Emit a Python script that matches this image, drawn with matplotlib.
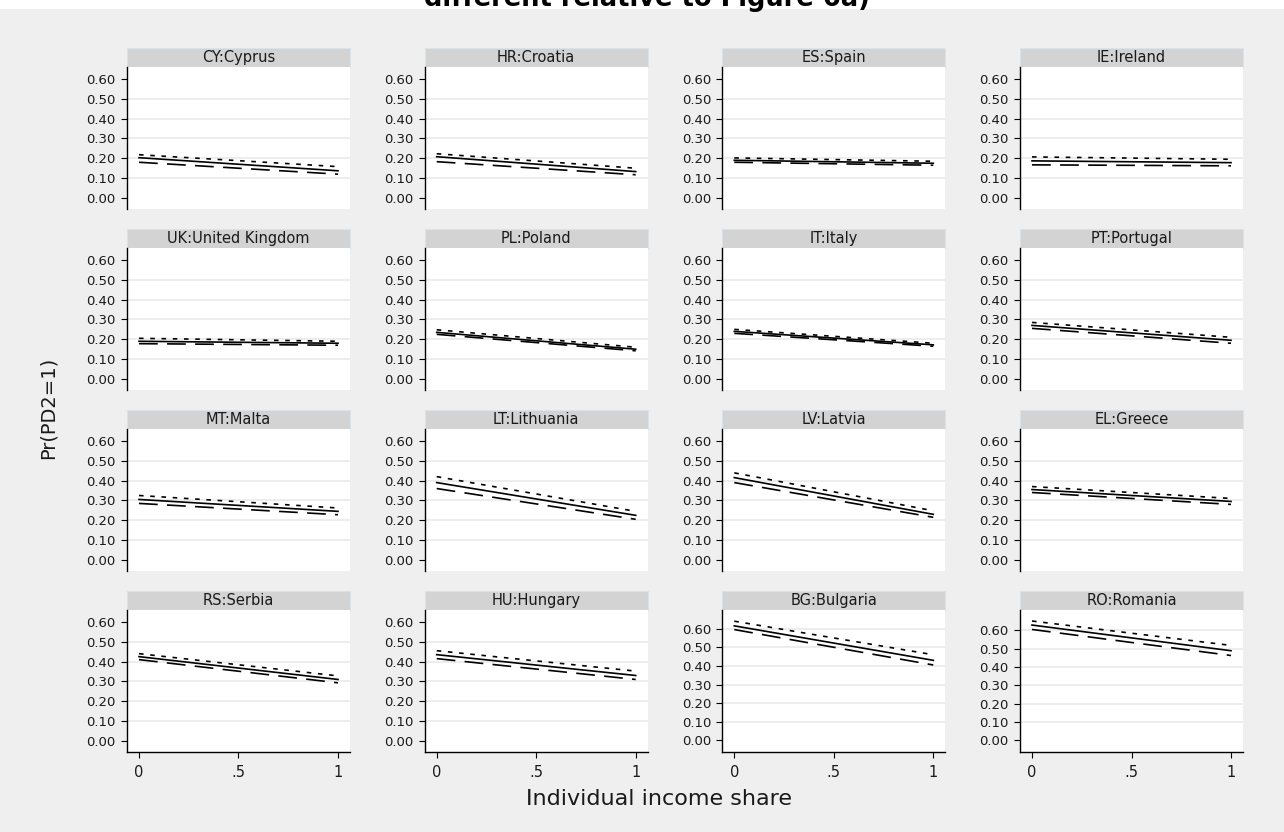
import matplotlib
matplotlib.use('Agg')
from matplotlib import pyplot as plt
from matplotlib.patches import Rectangle

# predicted Pr(PD2=1) at income share 0 and 1, one tuple per country
countries = ['CY:Cyprus', 'HR:Croatia', 'ES:Spain', 'IE:Ireland',
             'UK:United Kingdom', 'PL:Poland', 'IT:Italy', 'PT:Portugal',
             'MT:Malta', 'LT:Lithuania', 'LV:Latvia', 'EL:Greece',
             'RS:Serbia', 'HU:Hungary', 'BG:Bulgaria', 'RO:Romania']
share = [0, 1]
pr_mid = [(0.203, 0.137), (0.208, 0.133), (0.190, 0.175), (0.187, 0.178),
          (0.190, 0.180), (0.235, 0.150), (0.240, 0.172), (0.270, 0.195),
          (0.305, 0.245), (0.390, 0.225), (0.415, 0.230), (0.355, 0.295),
          (0.425, 0.310), (0.435, 0.330), (0.615, 0.430), (0.629, 0.489)]
pr_upper = [(0.218, 0.158), (0.223, 0.150), (0.202, 0.185), (0.207, 0.195),
            (0.205, 0.190), (0.248, 0.160), (0.250, 0.180), (0.285, 0.210),
            (0.325, 0.262), (0.420, 0.245), (0.439, 0.248), (0.370, 0.310),
            (0.440, 0.328), (0.455, 0.352), (0.640, 0.460), (0.651, 0.518)]
pr_lower = [(0.180, 0.120), (0.183, 0.117), (0.180, 0.165), (0.167, 0.162),
            (0.178, 0.170), (0.225, 0.142), (0.230, 0.165), (0.255, 0.180),
            (0.285, 0.228), (0.360, 0.205), (0.390, 0.215), (0.340, 0.280),
            (0.410, 0.293), (0.415, 0.310), (0.595, 0.405), (0.605, 0.463)]
yticks = [0.0, 0.1, 0.2, 0.3, 0.4, 0.5, 0.6]
xticks = [0, 0.5, 1]
xticklabels = ['0', '.5', '1']

W, H = 1284, 832
plt.rcParams['font.family'] = ['DejaVu Sans']
plt.rcParams['lines.scale_dashes'] = False
BG = '#efefef'

def box(left, top, w, h):                       # pixel box -> figure fraction
    return [left / W, 1 - (top + h) / H, w / W, h / H]

fig = plt.figure(figsize=(W / 100, H / 100), dpi=100, facecolor=BG)
fig.patches.append(Rectangle((0, 1 - 9 / H), 1, 9 / H, transform=fig.transFigure,
                             facecolor='white', edgecolor='none'))
fig.text(647 / W, 1 - 6 / H, 'different relative to Figure 6a)', ha='center',
         va='baseline', fontsize=18.5, weight='bold')

col_left = [127, 424.7, 722.3, 1020]
row_top = [48, 229, 410, 591]
pw, hh, ph = 223, 19, 142

for i, name in enumerate(countries):
    r, c = divmod(i, 4)
    left, top = col_left[c], row_top[r]

    # grey strip with the country name
    hax = fig.add_axes(box(left, top, pw, hh))
    hax.set_facecolor('#d3d3d3')
    hax.set_xticks([]); hax.set_yticks([])
    for s in hax.spines.values():
        s.set_color('#dbe3e8'); s.set_linewidth(0.8)
    hax.text(0.5, 0.5, name, ha='center', va='center', fontsize=10.5,
             color='#1a1a1a', transform=hax.transAxes)

    ax = fig.add_axes(box(left, top + hh, pw, ph))
    ax.set_facecolor('white')
    top_val = max(max(pr_upper[i]), 0.6)
    ax.set_ylim(-0.058 * top_val / 0.6 if top_val > 0.6 else -0.0555,
                top_val + 0.06)
    ax.set_xlim(-0.0603, 1.0603)
    for t in yticks:
        if 0 < t < top_val + 0.06 - 0.08:
            ax.axhline(t, color='#e8e8e8', lw=1.1, zorder=0)

    ax.plot(share, pr_upper[i], color='black', lw=1.2, ls=(0, (3.3, 4.8)))
    ax.plot(share, pr_mid[i], color='black', lw=1.2, ls='-')
    ax.plot(share, pr_lower[i], color='black', lw=1.2, ls=(0, (13.5, 6.7)))

    ax.set_yticks(yticks)
    ax.set_yticklabels([f'{t:.2f}' for t in yticks])
    ax.tick_params(axis='y', direction='out', length=4.5, width=0.8, pad=3.6,
                   labelsize=9.5, labelcolor='#1a1a1a')
    for s in ['top', 'right']:
        ax.spines[s].set_visible(False)
    ax.spines['left'].set_linewidth(1.0)
    if r == 3:
        ax.set_xticks(xticks)
        ax.set_xticklabels(xticklabels)
        ax.tick_params(axis='x', direction='out', length=4.5, width=0.8, pad=5,
                       labelsize=10.5, labelcolor='#1a1a1a')
        ax.spines['bottom'].set_linewidth(1.0)
    else:
        ax.set_xticks([])
        ax.spines['bottom'].set_visible(False)

fig.text(659 / W, 1 - 799 / H, 'Individual income share', ha='center',
         va='center', fontsize=16, color='#1a1a1a')
fig.text(48.5 / W, 1 - 408 / H, 'Pr(PD2=1)', ha='center', va='center',
         rotation=90, fontsize=14, color='#1a1a1a')

fig.savefig('out.png', dpi=100, facecolor=BG)
